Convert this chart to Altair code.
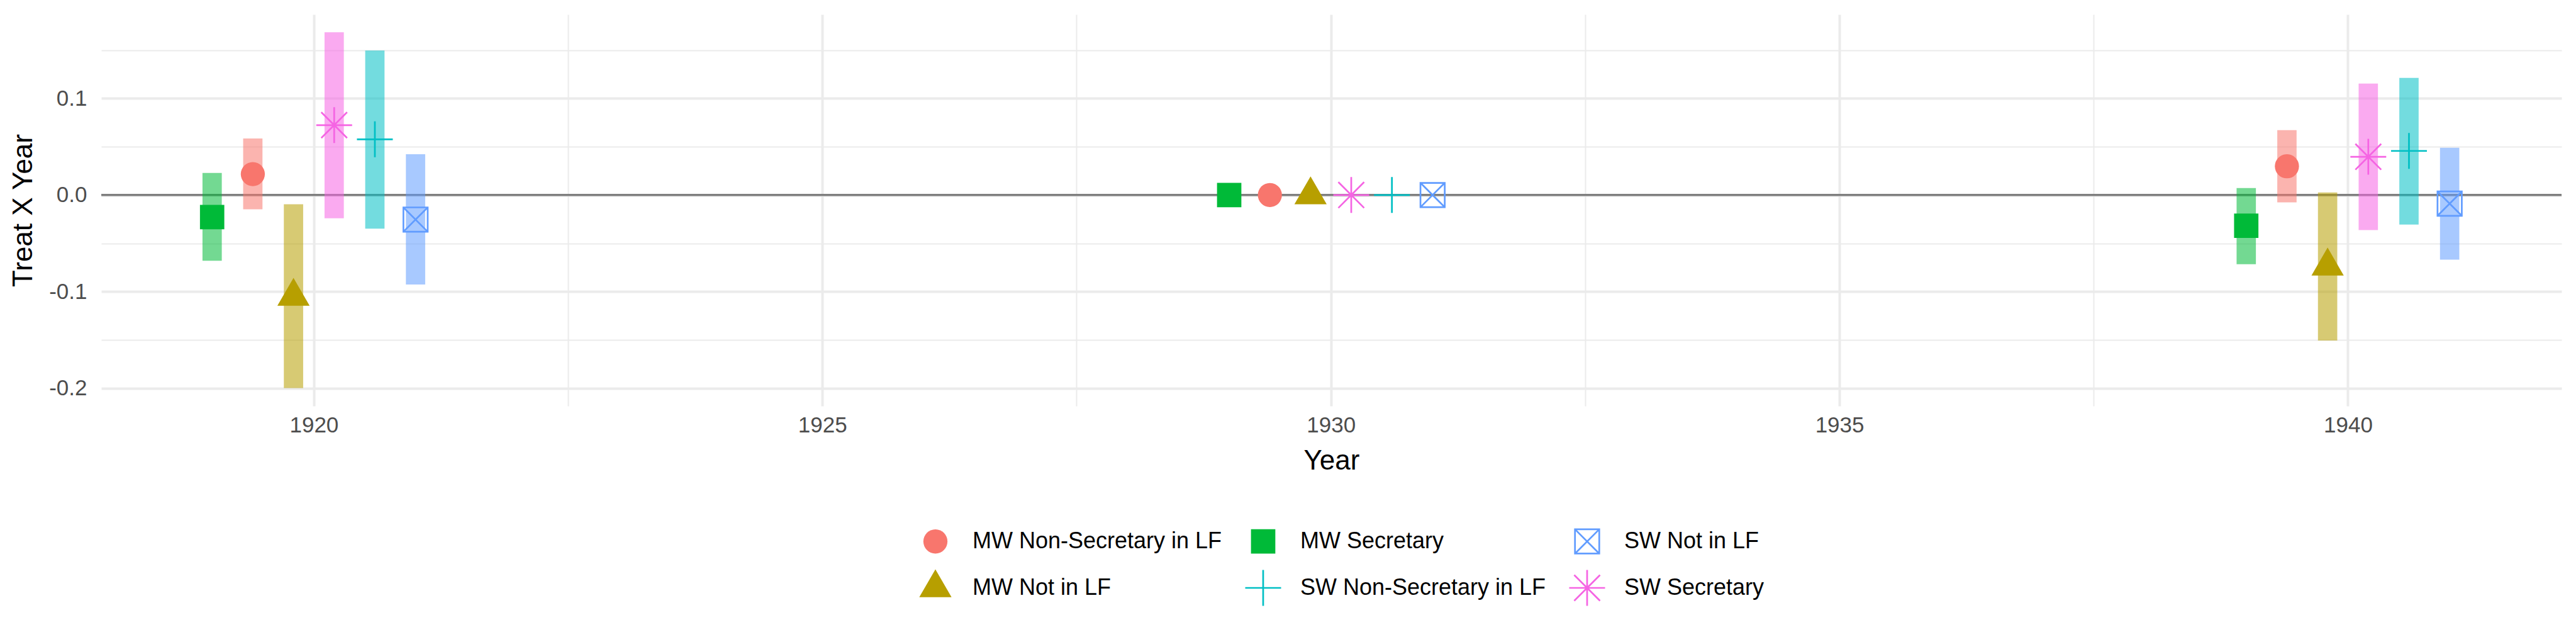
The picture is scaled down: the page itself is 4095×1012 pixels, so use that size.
import altair as alt
import pandas as pd

# ---------------- data ----------------
years = [1920, 1930, 1940]

# dodge order of the series within each year (left -> right)
dodge_order = ["MW Secretary", "MW Non-Secretary in LF", "MW Not in LF",
               "SW Secretary", "SW Non-Secretary in LF", "SW Not in LF"]

# legend order (row-major, 3 columns)
legend_order = ["MW Non-Secretary in LF", "MW Secretary", "SW Not in LF",
                "MW Not in LF", "SW Non-Secretary in LF", "SW Secretary"]

mw_secretary_est = [-0.0228, 0.0, -0.0318]
mw_secretary_lo = [-0.0680, 0.0, -0.0716]
mw_secretary_hi = [0.0228, 0.0, 0.0072]

mw_nonsec_est = [0.0217, 0.0, 0.0298]
mw_nonsec_lo = [-0.0148, 0.0, -0.0076]
mw_nonsec_hi = [0.0585, 0.0, 0.0672]

mw_notlf_est = [-0.1050, 0.0, -0.0737]
mw_notlf_lo = [-0.2000, 0.0, -0.1507]
mw_notlf_hi = [-0.0096, 0.0, 0.0026]

sw_secretary_est = [0.0724, 0.0, 0.0396]
sw_secretary_lo = [-0.0240, 0.0, -0.0363]
sw_secretary_hi = [0.1686, 0.0, 0.1155]

sw_nonsec_est = [0.0577, 0.0, 0.0457]
sw_nonsec_lo = [-0.0348, 0.0, -0.0305]
sw_nonsec_hi = [0.1497, 0.0, 0.1213]

sw_notlf_est = [-0.0254, 0.0, -0.0089]
sw_notlf_lo = [-0.0926, 0.0, -0.0670]
sw_notlf_hi = [0.0423, 0.0, 0.0489]

x_ticks = [1920, 1922.5, 1925, 1927.5, 1930, 1932.5, 1935, 1937.5, 1940]
y_ticks = [-0.2, -0.15, -0.1, -0.05, 0.0, 0.05, 0.1, 0.15]

# ---------------- styles ----------------
colors = {
    "MW Non-Secretary in LF": "#F8766D",
    "MW Not in LF": "#B79F00",
    "MW Secretary": "#00BA38",
    "SW Non-Secretary in LF": "#00BFC4",
    "SW Not in LF": "#619CFF",
    "SW Secretary": "#F564E3",
}
CIRC = "M0.672,0A0.672,0.672,0,1,1,-0.672,0A0.672,0.672,0,1,1,0.672,0Z"
SQR = "M-0.679,-0.679H0.679V0.679H-0.679Z"
TRI = "M0,-1.036L0.9,0.518L-0.9,0.518Z"
PLUS = "M-1,0H1M0,-1V1"
AST = "M-1,0H1M0,-1V1M-0.72,-0.72L0.72,0.72M-0.72,0.72L0.72,-0.72"
BOXX = ("M-0.677,-0.677H0.677V0.677H-0.677ZM-0.677,-0.677L0.677,0.677"
        "M-0.677,0.677L0.677,-0.677")
shapes = {
    "MW Non-Secretary in LF": CIRC,
    "MW Not in LF": TRI,
    "MW Secretary": SQR,
    "SW Non-Secretary in LF": PLUS,
    "SW Not in LF": BOXX,
    "SW Secretary": AST,
}
filled = {"MW Non-Secretary in LF", "MW Not in LF", "MW Secretary"}

series_data = {
    "MW Secretary": (mw_secretary_est, mw_secretary_lo, mw_secretary_hi),
    "MW Non-Secretary in LF": (mw_nonsec_est, mw_nonsec_lo, mw_nonsec_hi),
    "MW Not in LF": (mw_notlf_est, mw_notlf_lo, mw_notlf_hi),
    "SW Secretary": (sw_secretary_est, sw_secretary_lo, sw_secretary_hi),
    "SW Non-Secretary in LF": (sw_nonsec_est, sw_nonsec_lo, sw_nonsec_hi),
    "SW Not in LF": (sw_notlf_est, sw_notlf_lo, sw_notlf_hi),
}

DODGE = 0.4
rows = []
for i, name in enumerate(dodge_order):
    e, lo, hi = series_data[name]
    for j, yr in enumerate(years):
        rows.append({"series": name, "year": yr,
                     "x": yr + (i - (len(dodge_order) - 1) / 2) * DODGE,
                     "est": e[j], "lo": lo[j], "hi": hi[j]})
df = pd.DataFrame(rows)

FONT = "Liberation Sans"
xscale = alt.Scale(domain=[1917.91, 1942.1], nice=False, zero=False)
yscale = alt.Scale(domain=[-0.2185, 0.187], nice=False, zero=False)

x_axis = alt.Axis(
    values=x_ticks, format="d",
    labelExpr="datum.value % 5 == 0 ? datum.label : ''",
    gridColor="#EBEBEB",
    gridWidth={"condition": {"test": "datum.value % 5 == 0", "value": 4}, "value": 2},
    ticks=False, tickSize=0, domain=False,
    labelFont=FONT, labelFontSize=35, labelColor="#4D4D4D", labelPadding=13,
    title="Year", titleFont=FONT, titleFontSize=44, titleFontWeight="normal",
    titleColor="black", titlePadding=17,
)
y_axis = alt.Axis(
    values=y_ticks,
    labelExpr=("abs(round(datum.value*20)) % 2 == 0 ? "
               "(datum.value < -0.001 ? '-' : '') + format(abs(datum.value), '.1f') : ''"),
    gridColor="#EBEBEB",
    gridWidth={"condition": {"test": "abs(round(datum.value*20)) % 2 == 0", "value": 4},
               "value": 2},
    ticks=False, tickSize=0, domain=False,
    labelFont=FONT, labelFontSize=35, labelColor="#4D4D4D", labelPadding=23,
    title="Treat X Year", titleFont=FONT, titleFontSize=44, titleFontWeight="normal",
    titleColor="black", titlePadding=18,
)

base = alt.Chart(df)

zero_line = alt.Chart(pd.DataFrame({"y": [0.0]})).mark_rule(
    color="#7F7F7F", strokeWidth=3.5
).encode(y=alt.Y("y:Q", scale=yscale, axis=y_axis))

# error bars: colour scale declared in dodge order so that its (hidden) legend
# is not merged with the point legend
bars = base.mark_rule(strokeWidth=30.7, opacity=0.55, strokeCap="butt").encode(
    x=alt.X("x:Q", scale=xscale, axis=x_axis),
    y=alt.Y("lo:Q", scale=yscale, axis=y_axis),
    y2="hi:Q",
    color=alt.Color("series:N",
                    scale=alt.Scale(domain=dodge_order,
                                    range=[colors[s] for s in dodge_order]),
                    legend=None),
)

legend = alt.Legend(
    title=None, orient="none", legendX=1296, legendY=807, columns=3,
    direction="horizontal", labelFont=FONT, labelFontSize=36, labelColor="black",
    labelOffset=29, columnPadding=31, rowPadding=14, padding=0,
    symbolStrokeWidth=2.7, symbolOpacity=1, symbolSize=3249, labelLimit=1000,
)

points = base.mark_point(opacity=1, strokeWidth=2.7, size=3249).encode(
    x=alt.X("x:Q", scale=xscale, axis=x_axis),
    y=alt.Y("est:Q", scale=yscale, axis=y_axis),
    fill=alt.Fill("series:N",
                  scale=alt.Scale(domain=legend_order,
                                  range=[colors[s] if s in filled else "transparent"
                                         for s in legend_order]),
                  legend=legend),
    stroke=alt.Stroke("series:N",
                      scale=alt.Scale(domain=legend_order,
                                      range=["transparent" if s in filled else colors[s]
                                             for s in legend_order]),
                      legend=legend),
    shape=alt.Shape("series:N",
                    scale=alt.Scale(domain=legend_order,
                                    range=[shapes[s] for s in legend_order]),
                    legend=legend),
)

chart = alt.layer(zero_line, bars, points).properties(
    width=3911, height=622,
    autosize=alt.AutoSizeParams(type="none"),
    padding={"left": 153, "top": 15, "right": 15, "bottom": 340},
    background="white",
).configure_view(stroke="transparent")

chart.save("out.html", embed_options={"renderer": "svg", "actions": False})
